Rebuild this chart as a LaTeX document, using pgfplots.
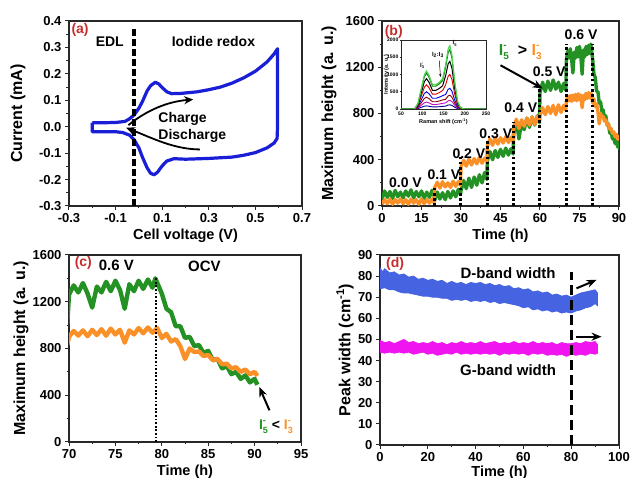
\documentclass[border=0pt]{standalone}
\usepackage{fontspec}
\setmainfont{Liberation Sans}
\usepackage{pgfplots}
\pgfplotsset{compat=1.18}
\usepackage{pgfplotstable}
\usetikzlibrary{arrows.meta}

\definecolor{lblred}{RGB}{200,45,45}
\definecolor{cvblue}{RGB}{25,30,215}
\definecolor{grn}{RGB}{35,145,35}
\definecolor{org}{RGB}{250,145,40}
\definecolor{dblue}{RGB}{70,100,225}
\definecolor{mag}{RGB}{240,20,240}
\definecolor{frm}{RGB}{40,40,40}

\newcommand{\ion}[2]{I\rlap{\raisebox{0.42em}{\fontsize{#2}{#2}\selectfont\bfseries -}}\raisebox{-0.28em}{\fontsize{#2}{#2}\selectfont\bfseries #1}}

% Raman band heights (b) and (c): time in h, height in a.u.
\pgfplotstableread[row sep=\\]{
t v\\
0 60\\ 1 130\\ 2 75\\ 3 125\\ 4 65\\ 5 135\\ 6 80\\ 7 120\\ 8 70\\ 9 130\\ 10 85\\ 11 140\\ 12 70\\ 13 125\\ 14 80\\ 15 130\\ 16 65\\ 17 120\\ 18 75\\ 19 135\\ 19.8 85\\
20 50\\ 21 120\\ 22 60\\ 23 115\\ 24 55\\ 25 125\\ 26 70\\ 27 130\\ 28 80\\ 29 145\\ 29.8 100\\
30 130\\ 31 220\\ 32 150\\ 33 240\\ 34 160\\ 35 250\\ 36 180\\ 37 270\\ 38 200\\ 39 290\\ 39.8 230\\
40 390\\ 41 470\\ 42 400\\ 43 480\\ 44 420\\ 45 490\\ 46 430\\ 47 500\\ 48 440\\ 49 495\\ 49.8 450\\
50 620\\ 51 740\\ 52 580\\ 53 720\\ 54 660\\ 55 760\\ 56 680\\ 57 770\\ 58 700\\ 59 780\\ 59.8 720\\
60 980\\ 61 1070\\ 62 990\\ 63 1080\\ 64 1000\\ 65 1090\\ 66 1010\\ 67 1070\\ 68 990\\ 69 1060\\ 69.8 1000\\
70 1260\\ 70.5 1340\\ 71 1280\\ 71.5 1360\\ 72 1270\\ 72.5 1150\\ 73 1330\\ 73.5 1280\\ 74 1370\\ 74.5 1290\\
75 1380\\ 75.5 1300\\ 76 1140\\ 76.5 1350\\ 77 1290\\ 77.5 1380\\ 78 1310\\ 78.5 1390\\ 79 1320\\ 79.3 1400\\
80 1270\\ 80.5 1140\\ 81 1110\\ 81.5 990\\ 82 990\\ 82.5 890\\ 83 900\\ 83.5 820\\ 84 830\\ 84.5 760\\
85 780\\ 85.5 700\\ 86 710\\ 86.5 630\\ 87 650\\ 87.5 580\\ 88 600\\ 88.5 540\\ 89 570\\ 89.5 510\\ 90 540\\ 90.3 490\\
}\greenI

\pgfplotstableread[row sep=\\]{
t v\\
0 15\\ 1 55\\ 2 20\\ 3 60\\ 4 15\\ 5 55\\ 6 25\\ 7 60\\ 8 20\\ 9 55\\ 10 15\\ 11 60\\ 12 25\\ 13 55\\ 14 15\\ 15 60\\ 16 20\\ 17 55\\ 18 25\\ 19 60\\ 19.8 30\\
20 160\\ 21 205\\ 22 155\\ 23 210\\ 24 165\\ 25 200\\ 26 160\\ 27 215\\ 28 170\\ 29 210\\ 29.8 180\\
30 340\\ 31 395\\ 32 345\\ 33 405\\ 34 355\\ 35 410\\ 36 365\\ 37 420\\ 38 370\\ 39 415\\ 39.8 390\\
40 520\\ 41 580\\ 42 525\\ 43 590\\ 44 535\\ 45 590\\ 46 545\\ 47 600\\ 48 550\\ 49 595\\ 49.8 560\\
50 680\\ 51 750\\ 52 670\\ 53 745\\ 54 690\\ 55 760\\ 56 700\\ 57 770\\ 58 705\\ 59 775\\ 59.8 730\\
60 780\\ 61 850\\ 62 790\\ 63 860\\ 64 800\\ 65 870\\ 66 790\\ 67 875\\ 68 810\\ 69 870\\ 69.8 830\\
70 900\\ 70.5 950\\ 71 910\\ 71.5 955\\ 72 905\\ 72.5 960\\ 73 915\\ 73.5 965\\ 74 910\\ 74.5 970\\
75 920\\ 75.5 960\\ 76 850\\ 76.5 955\\ 77 920\\ 77.5 975\\ 78 930\\ 78.5 980\\ 79 935\\ 79.5 975\\
80 890\\ 80.5 925\\ 81 860\\ 81.5 880\\ 82 820\\ 82.5 710\\ 83 800\\ 83.5 770\\ 84 775\\ 84.5 735\\
85 745\\ 85.5 700\\ 86 710\\ 86.5 665\\ 87 670\\ 87.5 630\\ 88 640\\ 88.5 600\\ 89 620\\ 89.5 580\\ 90 600\\ 90.3 565\\
}\orangeI

\pgfplotsset{
  panel/.style={
    scale only axis, anchor=south west,
    axis line style={line width=1.1pt, draw=frm},
    tick style={line width=1pt, draw=frm},
    major tick length=4pt, minor tick length=2.5pt,
    tick align=outside, xtick pos=left, ytick pos=left,
    tick label style={font=\fontsize{13}{13}\selectfont\bfseries},
    xlabel style={font=\fontsize{14.5}{15}\selectfont\bfseries},
    ylabel style={font=\fontsize{16}{16}\selectfont\bfseries},
    /pgf/number format/assume math mode=true,
    /pgf/number format/1000 sep={},
    clip mode=individual,
  },
}
\tikzset{
  tag/.style={font=\fontsize{14}{14}\selectfont\bfseries, text=lblred, anchor=west, inner sep=0pt},
  note/.style={font=\fontsize{14}{14}\selectfont\bfseries, inner sep=0pt},
  vdots/.style={black, line width=3pt, dash pattern=on 2.6pt off 2.6pt},
}

\begin{document}
\begin{tikzpicture}
\useasboundingbox (0pt,0pt) rectangle (630pt,478pt);

% ---------- (a) cyclic voltammogram
\begin{axis}[panel, at={(69pt,272pt)}, width=233pt, height=185pt,
  xmin=-0.3, xmax=0.7, ymin=-0.3, ymax=0.4,
  xtick={-0.3,-0.1,0.1,0.3,0.5,0.7}, xticklabels={-0.3,-0.1,0.1,0.3,0.5,0.7},
  minor xtick={-0.2,0,0.2,0.4,0.6},
  ytick={-0.3,-0.2,-0.1,0,0.1,0.2,0.3,0.4},
  yticklabels={-0.3,-0.2,-0.1,0.0,0.1,0.2,0.3,0.4},
  minor ytick={-0.25,-0.15,-0.05,0.05,0.15,0.25,0.35},
  xlabel={Cell voltage (V)}, ylabel={Current (mA)},
  xlabel style={at={(axis description cs:0.5,-0.16)}, anchor=center},
  ylabel style={at={(axis description cs:-0.219,0.5)}, anchor=center},
]
\addplot[cvblue, line width=3.2pt, line join=round] coordinates {
  (-0.2,0.015) (-0.15,0.015) (-0.1,0.016) (-0.06,0.02) (-0.04,0.03) (-0.02,0.045)
  (0.0,0.07) (0.015,0.095) (0.035,0.135) (0.05,0.155) (0.07,0.168) (0.085,0.162)
  (0.1,0.148) (0.12,0.132) (0.14,0.125) (0.18,0.126) (0.25,0.132) (0.3,0.14)
  (0.35,0.15) (0.4,0.165) (0.45,0.185) (0.5,0.21) (0.55,0.245) (0.58,0.275) (0.595,0.295)
  (0.595,0.2) (0.595,0.0) (0.593,-0.045) (0.58,-0.062) (0.55,-0.08) (0.5,-0.098)
  (0.45,-0.108) (0.4,-0.115) (0.3,-0.12) (0.2,-0.123) (0.15,-0.121) (0.12,-0.13)
  (0.1,-0.148) (0.08,-0.172) (0.065,-0.182) (0.05,-0.176) (0.035,-0.155) (0.015,-0.115)
  (0.0,-0.08) (-0.02,-0.05) (-0.04,-0.032) (-0.07,-0.022) (-0.1,-0.019) (-0.2,-0.019)
  (-0.2,0.015)};
\addplot[black, line width=3.5pt, dash pattern=on 7pt off 3pt] coordinates {(-0.02,-0.3) (-0.02,0.37)};
\draw[-{Stealth[length=9pt,width=8pt]}, line width=1.8pt] (axis cs:-0.045,0.006)
  .. controls (axis cs:0.03,0.06) and (axis cs:0.12,0.095) .. (axis cs:0.233,0.103);
\draw[-{Stealth[length=9pt,width=8pt]}, line width=1.8pt] (axis cs:0.262,-0.086)
  .. controls (axis cs:0.15,-0.086) and (axis cs:0.05,-0.04) .. (axis cs:-0.055,-0.004);
\node[tag] at (axis cs:-0.29,0.365) {(a)};
\node[note] at (axis cs:-0.125,0.322) {EDL};
\node[note] at (axis cs:0.32,0.322) {Iodide redox};
\node[note, anchor=west] at (axis cs:0.083,0.031) {Charge};
\node[note, anchor=west] at (axis cs:0.083,-0.034) {Discharge};
\end{axis}

% ---------- (b) band heights under step voltages
\begin{axis}[panel, at={(382pt,272pt)}, width=237pt, height=185pt,
  xmin=0, xmax=90, ymin=0, ymax=1600,
  xtick={0,15,...,90}, ytick={0,400,...,1600},
  minor x tick num=1, minor y tick num=1,
  xlabel={Time (h)}, ylabel={Maximum height (a. u.)},
  xlabel style={at={(axis description cs:0.5,-0.16)}, anchor=center},
  ylabel style={at={(axis description cs:-0.224,0.5)}, anchor=center},
]
\addplot[grn, line width=3.4pt, line join=round] table[x=t, y=v] {\greenI};
\addplot[org, line width=3.4pt, line join=round] table[x=t, y=v] {\orangeI};
\addplot[vdots] coordinates {(20,0) (20,155)};
\addplot[vdots] coordinates {(30,0) (30,425)};
\addplot[vdots] coordinates {(40,0) (40,570)};
\addplot[vdots] coordinates {(50,0) (50,730)};
\addplot[vdots] coordinates {(60,0) (60,1020)};
\addplot[vdots] coordinates {(70,0) (70,1400)};
\addplot[vdots] coordinates {(80,0) (80,1400)};
\node[tag] at (axis cs:1,1505) {(b)};
\node[note] at (axis cs:8.9,201) {0.0 V};
\node[note] at (axis cs:23.5,268) {0.1 V};
\node[note] at (axis cs:33,455) {0.2 V};
\node[note] at (axis cs:43.2,628) {0.3 V};
\node[note] at (axis cs:52.7,852) {0.4 V};
\node[note] at (axis cs:63.5,1160) {0.5 V};
\node[note] at (axis cs:75.6,1483) {0.6 V};
\node[font=\fontsize{16}{16}\selectfont\bfseries, inner sep=0pt] at (axis cs:52.5,1330)
  {\textcolor{grn}{\ion{5}{10}}\ \ \textcolor{black}{>}\ \textcolor{org}{\ion{3}{10}}};
\draw[-{Stealth[length=10pt,width=8pt]}, line width=2pt] (axis cs:45,1217) -- (axis cs:61,1016);
\end{axis}

% inset of (b): Raman spectra
\begin{axis}[at={(401pt,369pt)}, anchor=south west, scale only axis, width=85pt, height=69pt,
  xmin=50, xmax=250, ymin=0, ymax=2000,
  xtick={50,100,...,250}, ytick={0,500,...,2000},
  axis line style={line width=0.6pt, draw=frm}, tick style={line width=0.5pt, draw=frm},
  major tick length=1.5pt, tick align=outside, xtick pos=left, ytick pos=left,
  tick label style={font=\fontsize{5}{5}\selectfont\bfseries, inner sep=1pt},
  label style={font=\fontsize{5.5}{6}\selectfont\bfseries, inner sep=1pt},
  /pgf/number format/assume math mode=true, /pgf/number format/1000 sep={},
  xlabel={Raman shift (cm\textsuperscript{-1})}, ylabel={Intensity (a. u.)},
  xlabel style={at={(axis description cs:0.5,-0.19)}, anchor=center},
  ylabel style={at={(axis description cs:-0.17,0.5)}, anchor=center},
]
\addplot[blue!60!black, line width=0.9pt] coordinates {(50,0) (82,0) (90,14) (98,50) (105,81) (110,90) (116,79) (124,60) (132,60) (140,66) (148,75) (155,84) (161,114) (165,120) (170,102) (176,54) (183,14) (190,2) (200,0) (250,0)};
\addplot[mag!80!black, line width=0.9pt] coordinates {(50,0) (82,0) (90,30) (98,110) (105,180) (110,200) (116,176) (124,130) (132,130) (140,143) (148,163) (155,175) (161,238) (165,250) (170,213) (176,113) (183,30) (190,5) (200,0) (250,0)};
\addplot[red!55!black, line width=0.9pt] coordinates {(50,0) (82,0) (90,51) (98,187) (105,306) (110,340) (116,299) (124,210) (132,210) (140,231) (148,263) (155,280) (161,380) (165,400) (170,340) (176,180) (183,48) (190,8) (200,0) (250,0)};
\addplot[blue!90!black, line width=0.9pt] coordinates {(50,0) (82,0) (90,75) (98,275) (105,450) (110,500) (116,440) (124,310) (132,310) (140,341) (148,388) (155,420) (161,570) (165,600) (170,510) (176,270) (183,72) (190,12) (200,0) (250,0)};
\addplot[red!85!black, line width=0.9pt] coordinates {(50,0) (82,0) (90,105) (98,385) (105,630) (110,700) (116,616) (124,430) (132,430) (140,473) (148,538) (155,700) (161,950) (165,1000) (170,850) (176,450) (183,120) (190,20) (200,0) (250,0)};
\addplot[black, line width=1pt] coordinates {(50,0) (82,0) (90,132) (98,484) (105,792) (110,880) (116,774) (124,540) (132,540) (140,594) (148,675) (155,966) (161,1311) (165,1380) (170,1173) (176,621) (183,166) (190,28) (200,0) (250,0)};
\addplot[green!45!black, line width=0.9pt] coordinates {(50,0) (82,0) (90,156) (98,572) (105,936) (110,1040) (116,915) (124,660) (132,660) (140,726) (148,825) (155,1204) (161,1634) (165,1720) (170,1462) (176,774) (183,206) (190,34) (200,0) (250,0)};
\addplot[green!75!black!70!white, line width=1.2pt] coordinates {(50,0) (82,0) (90,165) (98,605) (105,990) (110,1100) (116,968) (124,700) (132,700) (140,770) (148,875) (155,1281) (161,1739) (165,1830) (170,1556) (176,824) (183,220) (190,37) (200,0) (250,0)};
\node[font=\fontsize{6}{6}\selectfont\bfseries, anchor=east, inner sep=0.5pt] at (axis cs:106,1250) {\ion{3}{4}};
\node[font=\fontsize{6}{6}\selectfont\bfseries, inner sep=0.5pt] at (axis cs:137,1560) {I\textsubscript{2}:I\textsubscript{3}};
\draw[-{Stealth[length=3pt,width=2.5pt]}, line width=0.5pt] (axis cs:140,1400) -- (axis cs:143,930);
\node[font=\fontsize{6}{6}\selectfont\bfseries, anchor=west, inner sep=0.5pt] at (axis cs:170,1900) {\ion{5}{4}};
\end{axis}

% ---------- (c) open circuit decay
\begin{axis}[panel, at={(69pt,36pt)}, width=232pt, height=187pt,
  xmin=70, xmax=95, ymin=0, ymax=1600,
  xtick={70,75,...,95}, ytick={0,400,...,1600},
  minor x tick num=1, minor y tick num=1,
  xlabel={Time (h)}, ylabel={Maximum height (a. u.)},
  xlabel style={at={(axis description cs:0.5,-0.16)}, anchor=center},
  ylabel style={at={(axis description cs:-0.207,0.5)}, anchor=center},
]
\addplot[grn, line width=4.4pt, line join=round] table[x=t, y=v] {\greenI};
\addplot[org, line width=4.4pt, line join=round] table[x=t, y=v] {\orangeI};
\addplot[black, line width=1.8pt, dash pattern=on 1.8pt off 1.8pt] coordinates {(79.4,0) (79.4,1400)};
\node[tag] at (axis cs:70.6,1530) {(c)};
\node[note, font=\fontsize{15}{15}\selectfont\bfseries] at (axis cs:75.1,1512) {0.6 V};
\node[note, font=\fontsize{15}{15}\selectfont\bfseries] at (axis cs:84.6,1505) {OCV};
\draw[-{Stealth[length=10pt,width=8pt]}, line width=2pt] (axis cs:91.6,271) -- (axis cs:90.5,471);
\node[font=\fontsize{14}{14}\selectfont\bfseries, inner sep=0pt] at (axis cs:92.3,129)
  {\textcolor{grn}{\ion{5}{9}} \textcolor{black}{<} \textcolor{org}{\ion{3}{9}}};
\end{axis}

% ---------- (d) peak widths
\begin{axis}[panel, at={(380pt,33pt)}, width=239pt, height=190pt,
  xmin=0, xmax=100, ymin=0, ymax=90,
  xtick={0,20,...,100}, ytick={0,10,...,90},
  minor x tick num=1,
  xlabel={Time (h)}, ylabel={Peak width (cm\textsuperscript{-1})},
  xlabel style={at={(axis description cs:0.5,-0.145)}, anchor=center},
  ylabel style={at={(axis description cs:-0.146,0.5)}, anchor=center},
]
\addplot[fill=dblue, draw=dblue, line width=0.8pt] coordinates {
  (0,84) (1,82) (2,83.5) (4,81.5) (6,82) (8,80.5) (10,81) (12,79.5) (14,80) (16,78.5)
  (18,79) (20,78) (22,78.5) (24,77.5) (26,78) (28,76.5) (30,77.5) (32,76.5) (34,77) (36,76)
  (38,77) (40,76.5) (42,77) (44,76) (46,76.5) (48,75.5) (50,76) (52,75) (54,75.5) (56,74)
  (58,74.5) (60,73.5) (62,74) (64,72.5) (66,73) (68,72) (70,72.5) (72,71) (74,71.5) (76,70.5)
  (78,71) (80,70) (82,71) (84,72) (86,72.5) (88,73) (90,73.5) (91,72)
  (91,66) (90,67) (88,65.5) (86,65) (84,64) (82,63.5) (80,62.5) (78,63) (76,62.5) (74,63.5)
  (72,63) (70,64) (68,63.5) (66,64.5) (64,64) (62,65.5) (60,65) (58,66) (56,66.5) (54,67)
  (52,67.5) (50,67) (48,68) (46,67.5) (44,68.5) (42,68) (40,68.5) (38,68) (36,69) (34,68.5)
  (32,69) (30,68.5) (28,69.5) (26,69.5) (24,70) (22,70) (20,70.5) (18,70.5) (16,71) (14,71.5)
  (12,72) (10,72) (8,72.5) (6,73.5) (4,73.5) (2,74.5) (0,74)} -- cycle;
\addplot[fill=mag, draw=mag, line width=0.8pt] coordinates {
  (0,49.5) (2,48.5) (4,49) (6,48) (8,49) (10,50) (12,48.5) (14,49) (16,48) (18,48.5)
  (20,48) (22,49) (24,48) (26,48.5) (28,47.5) (30,48.5) (32,48) (34,49) (36,48) (38,48.5)
  (40,48) (42,49) (44,48) (46,48.5) (48,49) (50,48) (52,48.5) (54,48) (56,49) (58,48)
  (60,48.5) (62,48) (64,49) (66,48) (68,48.5) (70,48) (72,48.5) (74,47.5) (76,48.5) (78,48)
  (80,48) (82,48.5) (84,48) (86,49) (88,48.5) (90,49) (91,47.5)
  (91,43.5) (90,43) (88,43.5) (86,42.5) (84,43) (82,42.5) (80,43) (78,42) (76,43) (74,42.5)
  (72,43) (70,42.5) (68,43.5) (66,43) (64,43.5) (62,42.5) (60,43.5) (58,43) (56,43.5) (54,43)
  (52,43.5) (50,42.5) (48,43.5) (46,43) (44,43.5) (42,43) (40,43.5) (38,43) (36,43.5) (34,43)
  (32,44) (30,43) (28,43.5) (26,43) (24,42.5) (22,43.5) (20,43) (18,44) (16,43.5) (14,43)
  (12,44) (10,43.5) (8,44) (6,43.5) (4,44) (2,43.5) (0,44)} -- cycle;
\addplot[black, line width=3pt, dash pattern=on 10pt off 5pt] coordinates {(80,0) (80,82)};
\draw[-{Stealth[length=10pt,width=8pt]}, line width=2pt] (axis cs:82.2,74.2) -- (axis cs:90.6,78.2);
\draw[-{Stealth[length=10pt,width=8pt]}, line width=2pt] (axis cs:82.2,51.3) -- (axis cs:92.7,51.3);
\node[tag] at (axis cs:2.5,86) {(d)};
\node[note, font=\fontsize{15}{15}\selectfont\bfseries] at (axis cs:53.6,81.3) {D-band width};
\node[note, font=\fontsize{15}{15}\selectfont\bfseries] at (axis cs:53.6,35.5) {G-band width};
\end{axis}
\end{tikzpicture}
\end{document}
